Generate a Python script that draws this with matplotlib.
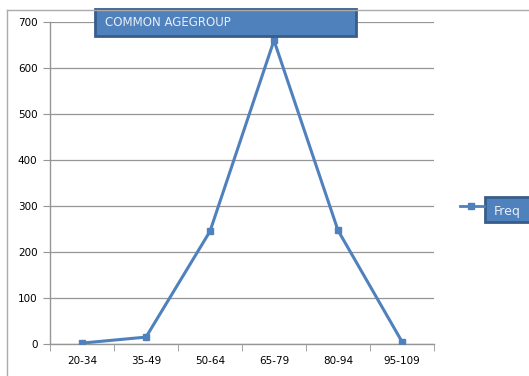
import matplotlib.pyplot as plt
from matplotlib.patches import Rectangle
from matplotlib.lines import Line2D

age_groups = ['20-34', '35-49', '50-64', '65-79', '80-94', '95-109']
freq = [2, 15, 245, 660, 247, 5]

W, H = 529, 376
blue = '#4F81BD'
edge = '#385D8A'
grey = '#969696'

fig = plt.figure(figsize=(W / 100, H / 100), dpi=100)
ax = fig.add_axes([50 / W, 1 - 344 / H, 384 / W, 322 / H])

x = range(len(age_groups))
line, = ax.plot(x, freq, color=blue, lw=2.2, marker='s', ms=5,
                mfc=blue, mec=blue, zorder=3)

ax.set_xlim(-0.5, len(age_groups) - 0.5)
ax.set_ylim(0, 700)
ax.set_yticks(range(0, 701, 100))
ax.set_xticks(list(x))
ax.set_xticklabels(age_groups)
ax.set_xticks([i - 0.5 for i in range(len(age_groups) + 1)], minor=True)
ax.tick_params(axis='x', which='major', length=0, pad=9, labelsize=7.5)
ax.tick_params(axis='x', which='minor', length=5, color=grey, direction='out')
ax.tick_params(axis='y', length=5, color=grey, labelsize=7.5, pad=4)
ax.grid(axis='y', color=grey, lw=0.9)
ax.set_axisbelow(True)
for side in ['top', 'right']:
    ax.spines[side].set_visible(False)
for side in ['left', 'bottom']:
    ax.spines[side].set_color(grey)
    ax.spines[side].set_linewidth(1.0)

# chart frame (top and left edges)
fig.add_artist(Line2D([7 / W, 1], [1 - 10 / H, 1 - 10 / H], color='#ABABAB', lw=1))
fig.add_artist(Line2D([7 / W, 7 / W], [1 - 10 / H, 0], color='#ABABAB', lw=1))

# title box
fig.add_artist(Rectangle((95 / W, 1 - 36 / H), 261 / W, 27 / H, facecolor=blue,
                         edgecolor=edge, lw=2, transform=fig.transFigure))
fig.text(105 / W, 1 - 22 / H, 'COMMON AGEGROUP', color='#E9EEF6', fontsize=8.5,
         va='center', ha='left')

# legend: line sample with marker, then boxed label
fig.add_artist(Line2D([460 / W, 484 / W], [1 - 206 / H, 1 - 206 / H], color=blue, lw=2))
fig.add_artist(Line2D([471 / W], [1 - 206 / H], color=blue, marker='s', ms=4.5,
                      mfc=blue, mec=blue))
fig.add_artist(Rectangle((485 / W, 1 - 222 / H), 50 / W, 25 / H, facecolor=blue,
                         edgecolor=edge, lw=2, transform=fig.transFigure))
fig.text(494 / W, 1 - 211 / H, 'Freq', color='#E9EEF6', fontsize=9,
         va='center', ha='left')

fig.savefig('out.png', dpi=100)
